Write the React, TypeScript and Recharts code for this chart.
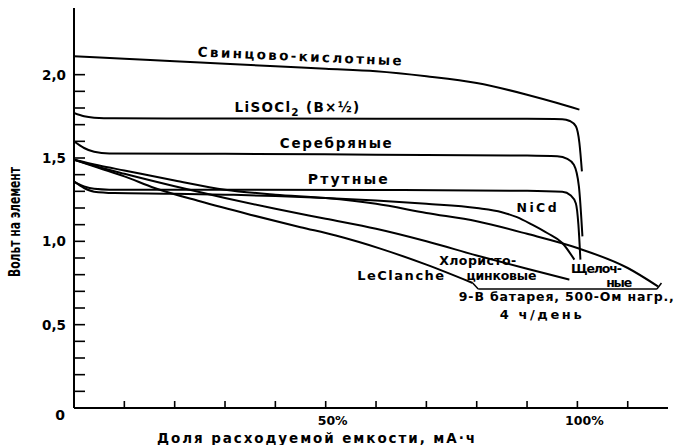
import { Label, Line, LineChart, ReferenceDot, ReferenceLine, XAxis, YAxis } from "recharts";

// discharge curves: [share of capacity, %; volts per cell]
const leadAcid: [number, number][] = [
  [0, 2.11], [10, 2.095], [20, 2.08], [30, 2.065], [40, 2.05], [50, 2.035],
  [60, 2.02], [70, 1.99], [80, 1.95], [90, 1.88], [96, 1.83], [100.4, 1.79],
];
const lithium: [number, number][] = [
  [0, 1.77], [2, 1.75], [4, 1.742], [8, 1.738], [30, 1.737], [60, 1.736],
  [90, 1.735], [97, 1.733], [98.5, 1.722], [99.7, 1.69], [100.4, 1.59], [100.9, 1.42],
];
const silver: [number, number][] = [
  [0, 1.6], [2, 1.56], [4, 1.537], [7, 1.527], [30, 1.525], [60, 1.52],
  [90, 1.515], [96, 1.51], [98, 1.495], [99.3, 1.46], [100.3, 1.33], [101, 1.03],
];
const mercury: [number, number][] = [
  [0, 1.357], [2, 1.33], [4, 1.315], [7, 1.31], [30, 1.31], [60, 1.308],
  [90, 1.303], [97, 1.297], [98.7, 1.275], [99.7, 1.227], [100.2, 1.1], [100.6, 0.89],
];
const nicd: [number, number][] = [
  [0, 1.36], [2, 1.32], [4, 1.298], [8, 1.29], [20, 1.286], [30, 1.28],
  [40, 1.272], [50, 1.26], [60, 1.245], [70, 1.225], [80, 1.2], [85, 1.175],
  [88, 1.145], [91, 1.1], [94, 1.05], [97, 0.99], [99.4, 0.89],
];
const alkaline: [number, number][] = [
  [0, 1.49], [5, 1.455], [10, 1.425], [20, 1.365], [30, 1.31], [40, 1.28],
  [50, 1.26], [60, 1.225], [70, 1.17], [80, 1.12], [90, 1.045], [100, 0.96],
  [110, 0.84], [116, 0.73],
];
const zincChloride: [number, number][] = [
  [0, 1.49], [5, 1.445], [10, 1.405], [20, 1.33], [30, 1.26], [40, 1.195],
  [50, 1.135], [60, 1.075], [70, 1.0], [80, 0.915], [90, 0.835], [98.4, 0.77],
];
const leclanche: [number, number][] = [
  [0, 1.49], [5, 1.44], [10, 1.39], [16, 1.32], [25, 1.24], [35, 1.16],
  [45, 1.085], [52, 1.035], [61, 0.955], [70, 0.86], [79.2, 0.75],
];

const xTicks = [0, 10, 20, 30, 40, 50, 60, 70, 80, 90, 100, 110];
const xTickLabels: Record<number, string> = { 50: "50%", 100: "100%" };
const yTicks = [
  0, 0.1, 0.2, 0.3, 0.4, 0.5, 0.6, 0.7, 0.8, 0.9, 1.0,
  1.1, 1.2, 1.3, 1.4, 1.5, 1.6, 1.7, 1.8, 1.9, 2.0,
];
const yTickLabels: Record<string, string> = { "0": "0", "0.5": "0,5", "1": "1,0", "1.5": "1,5", "2": "2,0" };

const toPoints = (rows: [number, number][]) => rows.map(([pct, volt]) => ({ pct, volt }));

const series = [
  { name: "Свинцово-кислотные", data: toPoints(leadAcid) },
  { name: "LiSOCl2", data: toPoints(lithium) },
  { name: "Серебряные", data: toPoints(silver) },
  { name: "Ртутные", data: toPoints(mercury) },
  { name: "NiCd", data: toPoints(nicd) },
  { name: "Щелочные", data: toPoints(alkaline) },
  { name: "Хлористо-цинковые", data: toPoints(zincChloride) },
  { name: "LeClanche", data: toPoints(leclanche) },
];

const font = "'DejaVu Sans', 'Liberation Sans', Arial, sans-serif";

const notes = [
  { text: "Свинцово-кислотные", pct: 44.8, volt: 2.082, width: 204, size: 13.5, rotate: 2.5 },
  { text: "Серебряные", pct: 52, volt: 1.56, width: 112, size: 13.5, rotate: 0 },
  { text: "Ртутные", pct: 54.4, volt: 1.344, width: 80, size: 14, rotate: 0 },
  { text: "NiCd", pct: 91.9, volt: 1.179, width: 40, size: 12.5, rotate: 0 },
  { text: "LeClanche", pct: 64.9, volt: 0.768, width: 87, size: 13, rotate: 0 },
  { text: "Хлористо-", pct: 80.2, volt: 0.858, width: 77, size: 12.5, rotate: 0 },
  { text: "цинковые", pct: 84.9, volt: 0.768, width: 70, size: 12.5, rotate: 0 },
  { text: "Щелоч-", pct: 103.8, volt: 0.81, width: 51, size: 12.5, rotate: 0 },
  { text: "ные", pct: 108.3, volt: 0.729, width: 26, size: 12.5, rotate: 0 },
  { text: "9-В батарея, 500-Ом нагр.,", pct: 97.8, volt: 0.642, width: 215, size: 12.5, rotate: 0 },
  { text: "4 ч/день", pct: 92.7, volt: 0.532, width: 82, size: 13, rotate: 0 },
];

function XTick(props: any) {
  const { x, y, payload } = props;
  const label = xTickLabels[payload.value];
  return (
    <g>
      {payload.value > 0 && <line x1={x} x2={x} y1={y} y2={y - 7} stroke="#000" strokeWidth={1.6} />}
      {label && (
        <text x={x + 7} y={y + 17} textAnchor="middle" fontFamily={font} fontWeight="bold" fontSize={12.5} fill="#000">
          {label}
        </text>
      )}
    </g>
  );
}

function YTick(props: any) {
  const { x, y, payload } = props;
  const v = payload.value;
  const label = yTickLabels[String(v)];
  if (v === 0) {
    return (
      <text x={x - 14} y={y + 12} textAnchor="middle" fontFamily={font} fontWeight="bold" fontSize={14} fill="#000">
        {label}
      </text>
    );
  }
  return (
    <g>
      <line x1={x} x2={x + 11} y1={y} y2={y} stroke="#000" strokeWidth={1.6} />
      {label && (
        <text x={x - 8} y={y + 5} textAnchor="end" fontFamily={font} fontWeight="bold" fontSize={13.5} fill="#000">
          {label}
        </text>
      )}
    </g>
  );
}

function YTitle(props: any) {
  const vb = props.viewBox;
  const cx = vb.x + 14;
  const cy = vb.y + 214;
  return (
    <text
      x={cx}
      y={cy}
      transform={`rotate(-90 ${cx} ${cy})`}
      textAnchor="middle"
      dominantBaseline="central"
      fontFamily="'DejaVu Sans Condensed', 'Liberation Sans Narrow', 'Liberation Sans', sans-serif"
      fontWeight="bold"
      fontSize={16}
      textLength={110}
      lengthAdjust="spacingAndGlyphs"
      fill="#000"
    >
      Вольт на элемент
    </text>
  );
}

function XTitle(props: any) {
  const vb = props.viewBox;
  return (
    <text
      x={vb.x + 242}
      y={vb.y + 35}
      textAnchor="middle"
      fontFamily={font}
      fontWeight="bold"
      fontSize={13.5}
      textLength={318}
      lengthAdjust="spacing"
      fill="#000"
    >
      Доля расходуемой емкости, мА·ч
    </text>
  );
}

export default function App() {
  return (
    <div style={{ position: "absolute", left: 0, top: 0, background: "#fff" }}>
      <LineChart width={678} height={445} margin={{ top: 8, right: 10, bottom: 0, left: 0 }}>
        <XAxis
          type="number"
          dataKey="pct"
          domain={[0, 118]}
          ticks={xTicks}
          interval={0}
          height={37}
          allowDataOverflow
          axisLine={{ stroke: "#000", strokeWidth: 2 }}
          tickLine={false}
          tickSize={0}
          tickMargin={0}
          tick={<XTick />}
        >
          <Label content={XTitle} />
        </XAxis>
        <YAxis
          type="number"
          domain={[0, 2.4]}
          ticks={yTicks}
          interval={0}
          width={74}
          allowDataOverflow
          axisLine={{ stroke: "#000", strokeWidth: 2 }}
          tickLine={false}
          tickSize={0}
          tickMargin={0}
          tick={<YTick />}
        >
          <Label content={YTitle} />
        </YAxis>

        {series.map((s) => (
          <Line
            key={s.name}
            data={s.data}
            dataKey="volt"
            type="monotone"
            stroke="#000"
            strokeWidth={2}
            dot={false}
            activeDot={false}
            isAnimationActive={false}
          />
        ))}

        <ReferenceLine segment={[{ x: 79.2, y: 0.75 }, { x: 80.3, y: 0.714 }]} stroke="#000" strokeWidth={1.5} ifOverflow="visible" />
        <ReferenceLine segment={[{ x: 80.3, y: 0.714 }, { x: 115.8, y: 0.714 }]} stroke="#000" strokeWidth={1.5} ifOverflow="visible" />
        <ReferenceLine segment={[{ x: 115.8, y: 0.714 }, { x: 116.7, y: 0.75 }]} stroke="#000" strokeWidth={1.5} ifOverflow="visible" />

        <ReferenceDot
          x={44.4}
          y={1.776}
          r={0}
          ifOverflow="visible"
          shape={(p: any) => (
            <text x={p.cx} y={p.cy} textAnchor="middle" fontFamily={font} fontWeight="bold" fontSize={13.5} letterSpacing={1.3} fill="#000">
              LiSOCl
              <tspan dy={4} fontSize={10.5}>2</tspan>
              <tspan dy={-4}> (B×½)</tspan>
            </text>
          )}
        />
        {notes.map((n) => (
          <ReferenceDot
            key={n.text}
            x={n.pct}
            y={n.volt}
            r={0}
            ifOverflow="visible"
            shape={(p: any) => (
              <text
                x={p.cx}
                y={p.cy}
                transform={n.rotate ? `rotate(${n.rotate} ${p.cx} ${p.cy})` : undefined}
                textAnchor="middle"
                fontFamily={font}
                fontWeight="bold"
                fontSize={n.size}
                textLength={n.width}
                lengthAdjust="spacing"
                fill="#000"
              >
                {n.text}
              </text>
            )}
          />
        ))}
      </LineChart>
    </div>
  );
}
